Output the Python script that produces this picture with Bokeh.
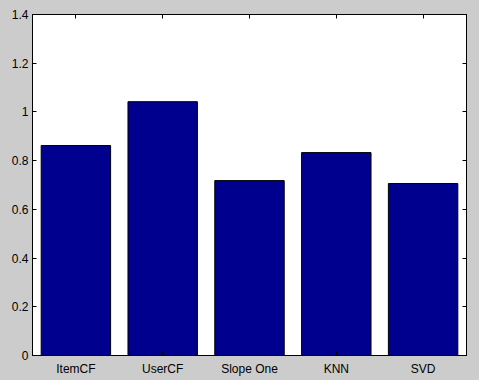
from bokeh.plotting import figure
from bokeh.models import Range1d, LinearAxis, FixedTicker, ColumnDataSource
from bokeh.embed import file_html
from bokeh.resources import INLINE

categories = ["ItemCF", "UserCF", "Slope One", "KNN", "SVD"]
values = [0.862, 1.042, 0.718, 0.833, 0.706]
y_ticks = [0, 0.2, 0.4, 0.6, 0.8, 1.0, 1.2, 1.4]
y_labels = ["0", "0.2", "0.4", "0.6", "0.8", "1", "1.2", "1.4"]

BG = "#cccccc"
FONT = "Liberation Sans"
FS = "12px"

n = len(categories)
xpos = list(range(1, n + 1))

p = figure(width=479, height=380, output_backend="svg", toolbar_location=None,
           x_range=Range1d(0.5, n + 0.5),
           y_range=Range1d(0, 1.4),
           x_axis_location=None, y_axis_location=None,
           min_border_left=32, min_border_right=13, min_border_top=14, min_border_bottom=25)
p.background_fill_color = "white"
p.border_fill_color = BG
p.outline_line_color = "black"
p.outline_line_width = 1
p.xgrid.visible = False
p.ygrid.visible = False

src = ColumnDataSource(dict(x=xpos, top=values))
p.vbar(x="x", top="top", width=0.8, bottom=0, source=src,
       fill_color="#00008f", line_color="black", line_width=1)

yticker = FixedTicker(ticks=y_ticks)
xticker = FixedTicker(ticks=xpos)

def style(ax, labels=True):
    ax.major_tick_in = 4
    ax.major_tick_out = 0
    ax.minor_tick_in = 0
    ax.minor_tick_out = 0
    ax.axis_line_color = "black"
    ax.major_tick_line_color = "black"
    ax.major_label_text_font = FONT
    ax.major_label_text_font_size = FS
    ax.major_label_text_color = "black"
    ax.major_label_standoff = 4 if labels else 0

left = LinearAxis(ticker=yticker, major_label_overrides={t: l for t, l in zip(y_ticks, y_labels)})
style(left)
p.add_layout(left, "left")
right = LinearAxis(ticker=yticker, major_label_overrides={t: "" for t in y_ticks})
style(right, labels=False)
p.add_layout(right, "right")
bottom = LinearAxis(ticker=xticker, major_label_overrides={x: c for x, c in zip(xpos, categories)})
style(bottom)
bottom.major_label_standoff = 6
p.add_layout(bottom, "below")
top = LinearAxis(ticker=xticker, major_label_overrides={x: "" for x in xpos})
style(top, labels=False)
p.add_layout(top, "above")

html = file_html(p, INLINE)
html = html.replace("</head>", "<style>body{background:%s;}</style></head>" % BG, 1)
open("out.html", "w").write(html)
